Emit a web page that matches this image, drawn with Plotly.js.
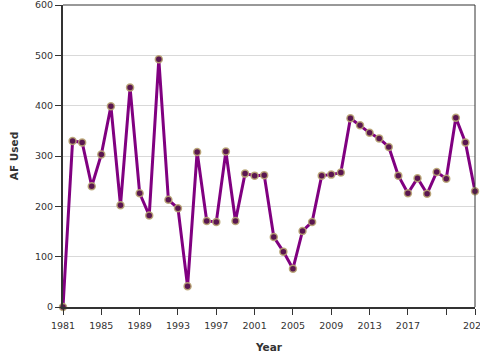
<!DOCTYPE html>
<html>
<head>
<meta charset="utf-8">
<script src="https://cdn.plot.ly/plotly-3.0.1.min.js"></script>
<style>html,body{margin:0;padding:0;background:#fff}#chart{width:480px;height:360px}</style>
</head>
<body>
<div id="chart"></div>
<script>
const years = [1981,1982,1983,1984,1985,1986,1987,1988,1989,1990,1991,1992,1993,1994,1995,1996,1997,1998,1999,2000,2001,2002,2003,2004,2005,2006,2007,2008,2009,2010,2011,2012,2013,2014,2015,2016,2017,2018,2019,2020,2021,2022,2023,2024];
const afUsed = [0,330,327,240,303,399,202,436,226,182,492,213,196,41,308,171,169,309,171,265,261,262,139,110,76,151,169,261,263,267,375,361,346,335,318,261,226,256,225,268,255,376,327,230];
const xTickVals = [1981,1985,1989,1993,1997,2001,2005,2009,2013,2017,2021,2024];
const xTickText = ["1981","1985","1989","1993","1997","2001","2005","2009","2013","2017","","2024"];
const yTickVals = [0,100,200,300,400,500,600];

const font = {family: "DejaVu Sans, Verdana, sans-serif", size: 9.5, color: "#333"};

Plotly.newPlot("chart", [{
  x: years,
  y: afUsed,
  type: "scatter",
  mode: "lines+markers",
  line: {color: "#800080", width: 3},
  marker: {size: 7, color: "#5a1650", line: {color: "rgba(185,165,115,0.9)", width: 1.5}},
  cliponaxis: false,
  hoverinfo: "x+y"
}], {
  width: 480, height: 360,
  margin: {l: 63, r: 5, t: 5, b: 53},
  paper_bgcolor: "#fff",
  plot_bgcolor: "#fff",
  showlegend: false,
  font: font,
  xaxis: {
    range: [1981, 2024],
    tickvals: xTickVals, ticktext: xTickText,
    ticks: "outside", ticklen: 6, tickwidth: 1, tickcolor: "#333",
    ticklabelstandoff: 3, ticklabeloverflow: "allow",
    showline: true, linecolor: "#333", linewidth: 2,
    showgrid: false, zeroline: false,
    tickfont: font,
    title: {text: "<b>Year</b>", font: {family: "DejaVu Sans, Verdana, sans-serif", size: 10.5, color: "#333"}, standoff: 13}
  },
  yaxis: {
    range: [0, 600],
    tickvals: yTickVals,
    ticks: "outside", ticklen: 6, tickwidth: 1, tickcolor: "#333",
    ticklabeloverflow: "allow",
    showline: true, linecolor: "#333", linewidth: 2,
    showgrid: true, gridcolor: "#d9d9d9", gridwidth: 1,
    zeroline: false,
    tickfont: font,
    title: {text: "<b>AF Used</b>", font: {family: "DejaVu Sans, Verdana, sans-serif", size: 10.5, color: "#333"}, standoff: 14}
  },
  shapes: [
    {type: "line", xref: "paper", yref: "paper", x0: 0, x1: 1, y0: 1, y1: 1, line: {color: "#333", width: 1}},
    {type: "line", xref: "paper", yref: "paper", x0: 1, x1: 1, y0: 0, y1: 1, line: {color: "#333", width: 1}}
  ]
}, {displayModeBar: false, staticPlot: true});
</script>
</body>
</html>
